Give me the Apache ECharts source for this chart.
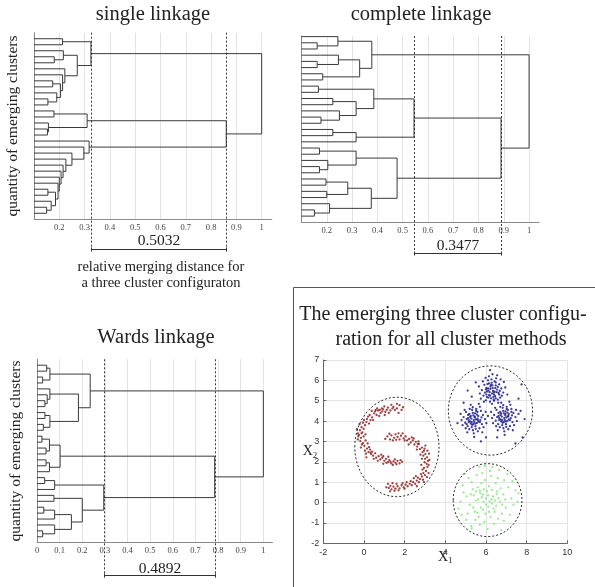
<!DOCTYPE html>
<html><head><meta charset="utf-8">
<script src="https://cdn.jsdelivr.net/npm/echarts@6/dist/echarts.min.js"></script>
<style>html,body{margin:0;padding:0;background:#fff}#c{width:595px;height:587px}</style>
</head><body><div id="c"></div>
<script>
// ---------------- DATA ----------------
const LEAF_COUNT = 30; // leaves numbered 1..30 from top to bottom of each dendrogram

// linkage rows: [childA, childB, mergeHeight]; node ids 31.. follow row order
const SINGLE_LINKAGE = [
  [1,2,0.213],[4,5,0.18],[3,32,0.216],[8,9,0.174],[11,12,0.155],[10,35,0.19],
  [34,36,0.205],[7,37,0.213],[6,38,0.222],[33,39,0.271],[31,40,0.325],
  [13,14,0.179],[16,17,0.153],[15,43,0.157],[42,44,0.31],
  [29,30,0.15],[28,46,0.168],[26,27,0.155],[48,47,0.185],[25,49,0.195],[24,50,0.2],
  [23,51,0.207],[22,52,0.215],[21,53,0.226],[20,54,0.25],[19,55,0.297],[18,56,0.318],
  [45,57,0.86],[41,58,1.0]
];
const COMPLETE_LINKAGE = [
  [2,3,0.162],[1,31,0.244],[5,6,0.162],[4,33,0.246],[7,8,0.184],[34,35,0.33],[32,36,0.378],
  [9,10,0.167],[11,12,0.224],[14,15,0.177],[13,40,0.25],[39,41,0.316],[38,42,0.386],
  [16,17,0.224],[44,18,0.316],[43,45,0.545],
  [19,20,0.171],[22,23,0.171],[21,48,0.204],[47,49,0.316],[24,25,0.197],[26,27,0.2],
  [51,52,0.283],[29,30,0.151],[28,54,0.211],[53,55,0.376],[50,56,0.478],
  [46,57,0.889],[37,58,1.0]
];
const WARD_LINKAGE = [
  [1,2,0.043],[3,4,0.025],[31,32,0.057],[7,8,0.035],[6,34,0.045],[5,35,0.057],
  [9,10,0.035],[11,12,0.028],[37,38,0.057],[36,39,0.183],[33,40,0.235],
  [13,14,0.022],[15,16,0.04],[42,43,0.055],[17,18,0.04],[45,19,0.055],[44,46,0.102],
  [20,21,0.034],[48,22,0.078],[23,24,0.075],[25,26,0.03],[51,27,0.078],[29,30,0.025],
  [28,53,0.078],[52,54,0.152],[50,55,0.2],[49,56,0.295],
  [47,57,0.785],[41,58,1.0]
];

const SINGLE_CUTS = [0.325, 0.86];
const COMPLETE_CUTS = [0.545, 0.889];
const WARD_CUTS = [0.295, 0.785];
const GAP_LABELS = ['0.5032', '0.3477', '0.4892'];

const PANEL_TITLES = ['single linkage', 'complete linkage', 'Wards linkage'];
const SCATTER_TITLE = ['The emerging three cluster configu-', 'ration for all cluster methods'];
const Y_NAME = 'quantity of emerging clusters';
const NOTE_LINES = ['relative merging distance for', 'a three cluster configuraton'];

const DIST_TICKS = [0.2,0.3,0.4,0.5,0.6,0.7,0.8,0.9,1];
const DIST_TICK_LABELS = ['0.2','0.3','0.4','0.5','0.6','0.7','0.8','0.9','1'];
const WARD_TICKS = [0,0.1,0.2,0.3,0.4,0.5,0.6,0.7,0.8,0.9,1];
const WARD_TICK_LABELS = ['0','0.1','0.2','0.3','0.4','0.5','0.6','0.7','0.8','0.9','1'];
const X1_TICKS = [-2,0,2,4,6,8,10];
const X2_TICKS = [-2,-1,0,1,2,3,4,5,6,7];

// scatter points as flat x,y pairs
const RED_XY = [
 1.75,4.78, 1.62,4.62, 1.85,4.55, 1.45,4.70, 1.30,4.52, 1.18,4.66, 1.05,4.45, 0.95,4.58, 0.82,4.40, 0.70,4.52,
 0.62,4.30, 0.50,4.38, 0.40,4.18, 0.32,4.05, 0.20,4.22, 0.12,3.95, 0.05,3.80, -0.05,3.92, -0.12,3.70, -0.20,3.55,
 -0.08,3.45, -0.25,3.32, -0.15,3.18, -0.02,3.25, -0.18,3.02, -0.05,2.92, 0.08,3.05, 0.02,2.78, 0.15,2.65, 0.05,2.55,
 0.22,2.48, 0.30,2.60, 0.35,2.38, 0.45,2.30, 0.55,2.42, 0.60,2.20, 0.72,2.28, 0.80,2.12, 0.90,2.20, 1.00,2.05,
 1.08,2.15, 1.18,1.98, 1.25,2.08, 1.35,1.92, 1.45,2.02, 1.55,1.95, 1.65,2.05, 1.75,1.92, 1.88,2.00, 1.60,1.88,
 1.10,1.95, 0.85,2.35, 0.40,2.50, 0.10,2.40, -0.10,2.85, -0.30,3.40, -0.22,3.85, 0.28,4.30, 0.55,4.48, 0.88,4.62,
 1.22,4.40, 1.52,4.55, 1.70,4.40, 1.35,4.80, 1.02,4.30, 0.75,4.25, 0.25,3.88, -0.35,3.60, 0.18,2.90, -0.30,3.10,
 0.00,4.05, 0.65,4.62, 1.92,4.68, 0.48,2.15, 0.95,1.90, 1.42,1.85, 0.38,4.50, -0.12,3.40, 0.12,2.22, 1.20,2.25,
 0.58,4.55, 1.12,4.55, 1.40,4.62, 0.90,4.48, 0.15,4.10, -0.28,3.25, -0.02,3.62, 0.32,2.45, 0.68,2.05, 1.30,2.00,
 1.52,2.12, 1.80,2.08, 0.25,2.72, -0.15,2.70, 0.45,4.05, 1.62,4.85, 1.00,4.72, 0.78,4.55, 0.08,3.35, 0.95,2.28,
 1.15,3.25, 1.28,3.10, 1.35,3.30, 1.48,3.18, 1.55,3.35, 1.65,3.22, 1.75,3.10, 1.82,3.28, 1.95,3.15, 2.05,3.25,
 2.12,3.05, 2.22,3.12, 2.30,2.95, 2.40,3.05, 2.48,2.85, 2.55,2.98, 2.62,2.75, 2.70,2.88, 2.75,2.62, 2.85,2.70,
 2.88,2.48, 2.95,2.55, 2.92,2.30, 3.02,2.38, 3.00,2.15, 3.10,2.22, 2.98,1.98, 3.08,1.90, 3.12,1.75, 2.95,1.70,
 3.05,1.55, 2.92,1.45, 3.00,1.35, 2.85,1.28, 2.90,1.12, 2.75,1.15, 2.70,1.00, 2.60,1.08, 2.52,0.92, 2.42,1.00,
 2.35,0.85, 2.25,0.92, 2.15,0.80, 2.05,0.88, 1.95,0.75, 1.85,0.85, 1.75,0.70, 1.65,0.80, 1.55,0.68, 1.45,0.78,
 1.35,0.65, 1.30,0.82, 1.22,0.72, 1.18,0.92, 1.28,0.55, 1.40,0.95, 1.90,0.95, 2.45,1.20, 2.80,1.40, 3.15,2.05,
 2.78,2.35, 2.60,2.60, 2.20,2.85, 1.70,3.40, 1.05,3.12, 2.35,3.20, 2.68,3.00, 3.18,1.45, 2.60,0.80, 1.60,0.92,
 2.10,1.00, 3.02,2.80, 1.90,3.40, 1.42,3.05, 2.82,1.85, 3.20,2.40,
 1.25,3.38, 1.58,3.08, 2.00,3.05, 2.45,3.15, 2.65,2.88, 2.98,2.65, 3.12,2.55, 2.85,2.15, 3.18,1.85, 2.88,1.62,
 3.10,1.25, 2.65,1.22, 2.30,1.05, 2.00,0.68, 1.50,0.58, 1.10,0.75, 1.70,0.60, 2.55,1.30, 2.95,1.00, 3.22,2.10
];
const BLUE_XY = [
 6.30,5.35, 6.12,5.50, 6.45,5.22, 6.05,5.18, 6.55,5.55, 6.22,5.70, 6.38,5.05, 5.95,5.40, 6.62,5.38, 6.28,5.88,
 6.48,5.75, 6.15,5.28, 6.35,5.48, 6.02,5.62, 6.70,5.15, 5.88,5.25, 6.42,5.95, 6.58,5.05, 6.20,4.95, 6.08,5.82,
 6.75,5.60, 5.80,5.52, 6.33,5.62, 6.25,5.12, 6.52,5.42, 6.18,5.42, 6.40,5.30, 6.00,5.02, 6.65,5.80, 5.92,5.78,
 6.85,5.40, 6.27,6.05, 6.50,6.10, 5.75,5.10, 6.10,6.00, 6.60,4.90, 6.45,5.62, 6.22,5.58, 6.36,5.18, 6.05,5.45,
 6.78,5.25, 5.85,5.95, 6.30,4.85, 6.95,5.65, 5.70,5.35, 6.15,6.20, 6.55,6.25, 6.88,5.92, 5.98,6.12, 6.40,5.00,
 6.12,5.15, 6.68,5.48, 6.25,5.78, 6.48,5.90, 6.02,5.30, 7.05,5.30, 5.65,5.70, 6.32,6.30, 6.72,6.05, 5.90,4.95,
 6.42,5.45, 6.10,5.60, 6.58,5.68, 6.20,5.25, 6.32,5.75, 6.00,5.55, 6.48,5.12, 6.65,5.30, 6.15,5.85, 6.38,5.40,
 5.40,4.05, 5.22,4.20, 5.55,3.90, 5.15,3.95, 5.62,4.25, 5.35,4.40, 5.48,3.75, 5.05,4.10, 5.72,4.05, 5.30,3.70,
 5.58,4.45, 5.25,3.88, 5.45,4.18, 5.12,4.30, 5.80,3.85, 4.98,3.92, 5.52,4.60, 5.68,3.65, 5.32,4.55, 5.18,3.60,
 5.85,4.30, 4.90,4.20, 5.42,3.95, 5.38,4.28, 5.62,3.98, 5.28,4.12, 5.50,4.08, 5.10,3.75, 5.75,4.50, 5.02,4.45,
 5.95,4.10, 5.36,3.55, 5.60,3.50, 4.85,3.80, 5.20,4.60, 5.70,4.70, 5.55,4.32, 5.32,3.82, 5.46,4.38, 5.15,4.05,
 5.88,3.70, 4.95,4.55, 5.40,3.40, 6.02,3.90, 4.80,4.05, 5.25,4.80, 5.65,4.85, 5.98,4.45, 5.08,3.45, 5.50,3.62,
 5.22,3.98, 5.78,4.18, 5.35,4.68, 5.58,4.12, 5.12,4.15, 6.10,4.25, 4.75,4.35, 5.42,3.22, 5.82,3.45, 5.00,3.65,
 5.45,4.22, 5.30,3.95, 5.60,4.05, 5.38,3.85, 5.18,4.35, 5.52,4.50, 5.70,3.95, 5.25,4.25, 5.48,3.88, 5.05,3.85,
 6.90,4.15, 6.72,4.30, 7.05,4.00, 6.65,4.05, 7.12,4.35, 6.85,4.50, 6.98,3.85, 6.55,4.20, 7.22,4.15, 6.80,3.80,
 7.08,4.55, 6.75,3.98, 6.95,4.28, 6.62,4.40, 7.30,3.95, 6.48,4.02, 7.02,4.70, 7.18,3.75, 6.82,4.65, 6.68,3.70,
 7.35,4.40, 6.40,4.30, 6.92,4.05, 6.88,4.38, 7.12,4.08, 6.78,4.22, 7.00,4.18, 6.60,3.85, 7.25,4.60, 6.52,4.55,
 7.45,4.20, 6.86,3.65, 7.10,3.60, 6.35,3.90, 6.70,4.70, 7.20,4.80, 7.05,4.42, 6.82,3.92, 6.96,4.48, 6.65,4.15,
 7.38,3.80, 6.45,4.65, 6.90,3.50, 7.52,4.00, 6.30,4.15, 6.75,4.90, 7.15,4.95, 7.48,4.55, 6.58,3.55, 7.00,3.72,
 6.72,4.08, 7.28,4.28, 6.85,4.78, 7.08,4.22, 6.62,4.25, 7.60,4.35, 6.25,4.45, 6.92,3.32, 7.32,3.55, 6.50,3.75,
 6.95,4.35, 6.80,4.05, 7.10,4.25, 6.88,3.95, 6.70,4.45, 7.02,4.60, 7.18,4.05, 6.75,4.38, 6.98,3.98, 7.25,4.45,
 7.70,4.50, 7.80,3.20, 5.10,5.50, 4.90,4.90, 6.00,3.20, 7.45,2.90, 7.75,5.80, 5.50,5.90, 6.20,6.50, 4.60,3.90,
 7.90,4.10, 5.75,3.00, 6.55,3.20, 7.60,5.10, 5.30,5.20
];
const GREEN_XY = [
 6.00,0.20, 5.72,0.45, 6.30,-0.05, 5.50,0.10, 6.55,0.55, 5.85,-0.35, 6.15,0.80, 5.35,0.65, 6.70,0.05, 5.95,1.10,
 6.42,-0.45, 5.20,-0.10, 6.85,0.40, 5.65,-0.70, 6.25,1.30, 5.05,0.30, 6.98,-0.25, 5.78,0.95, 6.60,-0.80, 5.45,-0.45,
 7.10,0.75, 4.90,0.50, 6.35,0.30, 5.88,0.05, 6.12,-0.20, 5.60,0.75, 6.48,0.95, 5.30,1.00, 6.78,-0.55, 5.92,-0.95,
 7.25,0.20, 4.75,0.05, 6.20,1.55, 5.55,1.35, 6.90,1.10, 5.10,-0.55, 7.35,-0.10, 5.70,-1.10, 6.40,-1.05, 4.85,0.85,
 7.45,0.60, 6.05,0.55, 5.80,0.25, 6.28,0.62, 5.40,0.35, 6.62,0.22, 5.98,-0.55, 6.18,0.05, 5.62,0.15, 6.50,-0.15,
 5.25,0.40, 6.72,0.70, 5.82,1.45, 6.08,-1.30, 5.48,-0.85, 6.88,-0.90, 7.05,1.40, 5.15,1.20, 4.65,-0.30, 7.55,0.05,
 6.32,1.75, 5.68,1.75, 6.95,0.15, 5.90,0.65, 6.10,0.35, 5.75,-0.25, 6.38,-0.30, 5.52,0.55, 6.58,1.20, 5.02,-0.85,
 7.18,-0.60, 6.22,-0.70, 5.38,-0.25, 6.80,-0.10, 6.00,-0.10, 5.85,0.40, 6.45,0.10, 5.58,-0.50, 7.30,1.05, 4.95,1.40,
 6.65,1.60, 5.28,-1.15, 6.75,-1.35, 7.60,0.45, 4.80,-0.60, 5.95,1.80, 6.15,-0.45, 5.70,0.58, 6.52,0.42, 6.28,0.15,
 5.30,-1.27
];
// cluster outlines: [centerX, centerY, radiusX, radiusY]
const ELLIPSES = [[1.62,2.73,2.07,2.44],[6.22,4.52,2.07,2.19],[6.08,0.12,1.69,1.79]];

// ---------------- BUILD ----------------
const SERIF = '"Liberation Serif","Times New Roman",serif';
const SANS = '"Liberation Sans",Arial,sans-serif';
const LINE = '#3a3a3a';

function pairs(flat){ const out=[]; for(let i=0;i<flat.length;i+=2) out.push([flat[i],flat[i+1]]); return out; }

function buildLinks(Z, base){
  const pos=[], ht=[];
  for(let i=1;i<=LEAF_COUNT;i++){ pos[i]=i; ht[i]=base; }
  const out=[];
  Z.forEach((r,k)=>{
    const id=LEAF_COUNT+1+k, a=r[0], b=r[1], h=r[2];
    pos[id]=(pos[a]+pos[b])/2; ht[id]=h;
    out.push([ht[a],pos[a],h,pos[b],ht[b]]);
  });
  return out;
}

function tickFormatter(ticks, labels){
  return function(v){
    for(let i=0;i<ticks.length;i++) if(Math.abs(ticks[i]-v)<1e-6) return labels[i];
    return '';
  };
}

function linkSeries(idx, Z, base){
  return {
    type:'custom', xAxisIndex:idx, yAxisIndex:idx, silent:true, clip:false,
    data: buildLinks(Z, base), encode:{x:[0,2,4], y:[1,3]},
    renderItem:function(params, api){
      const p1=api.coord([api.value(0),api.value(1)]);
      const p2=api.coord([api.value(2),api.value(1)]);
      const p3=api.coord([api.value(2),api.value(3)]);
      const p4=api.coord([api.value(4),api.value(3)]);
      return {type:'polyline', shape:{points:[p1,p2,p3,p4]}, style:{stroke:LINE, lineWidth:1, fill:null}};
    }
  };
}

function cutSeries(idx, cuts, label, bracketGap, textLift){
  return {
    type:'custom', xAxisIndex:idx, yAxisIndex:idx, silent:true, clip:false, z:5,
    data:[[cuts[0],cuts[1],1]], encode:{x:[0,1], y:2},
    renderItem:function(params, api){
      const cs=params.coordSys;
      const x1=Math.round(api.coord([api.value(0),1])[0])+0.5;
      const x2=Math.round(api.coord([api.value(1),1])[0])+0.5;
      const top=cs.y, by=Math.round(cs.y+cs.height+bracketGap)+0.5;
      const dash={stroke:'#222', lineWidth:0.9, lineDash:[2,2], fill:null};
      const solid={stroke:'#333', lineWidth:1, fill:null};
      return {type:'group', children:[
        {type:'line', shape:{x1:x1,y1:top,x2:x1,y2:by+2}, style:dash},
        {type:'line', shape:{x1:x2,y1:top,x2:x2,y2:by+2}, style:dash},
        {type:'line', shape:{x1:x1,y1:by,x2:x2,y2:by}, style:solid},
        {type:'line', shape:{x1:x1,y1:by-2,x2:x1,y2:by+2}, style:solid},
        {type:'line', shape:{x1:x2,y1:by-2,x2:x2,y2:by+2}, style:solid},
        {type:'text', x:(x1+x2)/2, y:by-textLift, style:{text:label, fill:'#222', font:'15.5px '+SERIF,
          align:'center', verticalAlign:'middle', textAlign:'center', textVerticalAlign:'middle'}}
      ]};
    }
  };
}

function distAxis(gi, min, ticks, labels){
  return {
    gridIndex:gi, type:'value', min:min, max:1.04, interval:0.1,
    axisLine:{show:true, onZero:false, lineStyle:{color:'#8a8a8a', width:1}},
    axisTick:{show:false},
    axisLabel:{show:true, margin:4, fontFamily:SERIF, fontSize:8.5, color:'#444', formatter:tickFormatter(ticks, labels)},
    splitLine:{show:true, showMinLine:false, showMaxLine:false, lineStyle:{color:'#e3e3e3', width:1}}
  };
}
function leafAxis(gi, min, name){
  return {
    gridIndex:gi, type:'value', inverse:true, min:min, max:31,
    axisLine:{show:true, onZero:false, lineStyle:{color:'#8a8a8a', width:1}},
    axisTick:{show:false}, axisLabel:{show:false}, splitLine:{show:false},
    name:name||'', nameLocation:'middle', nameGap:13, nameRotate:90, nameMoveOverlap:false,
    nameTextStyle:{fontFamily:SERIF, fontSize:15.5, color:'#222'}
  };
}

function txt(x, y, s, size, font){
  return {type:'text', x:x, y:y, silent:true,
    style:{text:s, fill:'#222', font:size+'px '+(font||SERIF), align:'center', verticalAlign:'middle',
      textAlign:'center', textVerticalAlign:'middle'}};
}

const SUB_RICH = {
  a:{fontFamily:SERIF, fontSize:14, color:'#222', lineHeight:16},
  b:{fontFamily:SERIF, fontSize:9, color:'#222', lineHeight:16, verticalAlign:'bottom', padding:[7,0,0,0]}
};

const option = {
  animation:false,
  backgroundColor:'#fff',
  grid:[
    {left:34, top:32.7, width:237.8, height:186.6},
    {left:301.5, top:36, width:237.7, height:186.3},
    {left:37, top:359.3, width:235.4, height:183.4},
    {left:323.3, top:360, width:244, height:183.3}
  ],
  xAxis:[
    distAxis(0, 0.1, DIST_TICKS, DIST_TICK_LABELS),
    distAxis(1, 0.1, DIST_TICKS, DIST_TICK_LABELS),
    distAxis(2, 0, WARD_TICKS, WARD_TICK_LABELS),
    {gridIndex:3, type:'value', min:-2, max:10, interval:2,
     axisLine:{show:true, onZero:false, lineStyle:{color:'#666'}},
     axisTick:{show:true, inside:true, length:3, lineStyle:{color:'#666'}},
     axisLabel:{margin:5, fontFamily:SANS, fontSize:9, color:'#333', formatter:tickFormatter(X1_TICKS, X1_TICKS.map(String))},
     splitLine:{show:true, lineStyle:{color:'#e4e4e4'}},
     name:'{a|X}{b|1}', nameLocation:'middle', nameGap:6, nameMoveOverlap:false,
     nameTextStyle:{rich:SUB_RICH}}
  ],
  yAxis:[
    leafAxis(0, 0, Y_NAME),
    leafAxis(1, 0.9, ''),
    leafAxis(2, 0, Y_NAME),
    {gridIndex:3, type:'value', min:-2, max:7, interval:1,
     axisLine:{show:true, onZero:false, lineStyle:{color:'#666'}},
     axisTick:{show:true, inside:true, length:3, lineStyle:{color:'#666'}},
     axisLabel:{margin:4, fontFamily:SANS, fontSize:9, color:'#333', formatter:tickFormatter(X2_TICKS, X2_TICKS.map(String))},
     splitLine:{show:true, lineStyle:{color:'#e4e4e4'}},
     name:'{a|X}{b|2}', nameLocation:'middle', nameGap:6, nameRotate:0, nameMoveOverlap:false,
     nameTextStyle:{align:'right', rich:SUB_RICH}}
  ],
  series:[
    linkSeries(0, SINGLE_LINKAGE, 0.1),
    cutSeries(0, SINGLE_CUTS, GAP_LABELS[0], 30, 9),
    linkSeries(1, COMPLETE_LINKAGE, 0.1),
    cutSeries(1, COMPLETE_CUTS, GAP_LABELS[1], 31, 8),
    linkSeries(2, WARD_LINKAGE, 0),
    cutSeries(2, WARD_CUTS, GAP_LABELS[2], 32, 7),
    {type:'scatter', xAxisIndex:3, yAxisIndex:3, data:pairs(RED_XY), symbol:'circle', symbolSize:2.3,
     itemStyle:{color:'#922a2a', opacity:0.9}, silent:true},
    {type:'scatter', xAxisIndex:3, yAxisIndex:3, data:pairs(BLUE_XY), symbol:'circle', symbolSize:2.3,
     itemStyle:{color:'#262690', opacity:0.9}, silent:true},
    {type:'scatter', xAxisIndex:3, yAxisIndex:3, data:pairs(GREEN_XY), symbol:'circle', symbolSize:2.3,
     itemStyle:{color:'#93e88a', opacity:0.95}, silent:true},
    {type:'custom', xAxisIndex:3, yAxisIndex:3, silent:true, clip:false, z:6,
     data:ELLIPSES, encode:{x:0, y:1},
     renderItem:function(params, api){
       const c=api.coord([api.value(0), api.value(1)]);
       const s=api.size([api.value(2), api.value(3)]);
       return {type:'ellipse', shape:{cx:c[0], cy:c[1], rx:s[0], ry:s[1]},
               style:{fill:null, stroke:'#111', lineWidth:0.9, lineDash:[2,2]}};
     }}
  ],
  graphic:[
    txt(153, 15, PANEL_TITLES[0], 20.5),
    txt(421, 15, PANEL_TITLES[1], 20.5),
    txt(156, 338, PANEL_TITLES[2], 20.5),
    txt(443, 315, SCATTER_TITLE[0], 20),
    txt(451, 340, SCATTER_TITLE[1], 20),
    txt(161, 267, NOTE_LINES[0], 14.5),
    txt(161, 283, NOTE_LINES[1], 14.5),
    {type:'line', silent:true, shape:{x1:293.5, y1:287.5, x2:595, y2:287.5}, style:{stroke:'#555', lineWidth:1}},
    {type:'line', silent:true, shape:{x1:293.5, y1:287.5, x2:293.5, y2:587}, style:{stroke:'#555', lineWidth:1}}
  ]
};

const chart = echarts.init(document.getElementById('c'), null, {renderer:'canvas', width:595, height:587});
chart.setOption(option);
</script>
</body></html>
